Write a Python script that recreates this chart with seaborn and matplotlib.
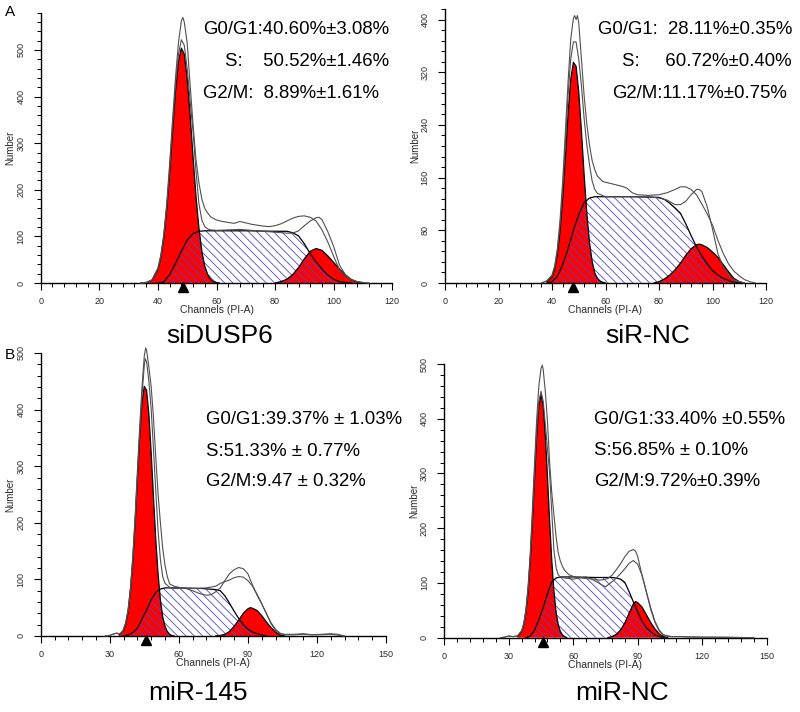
import matplotlib
matplotlib.use('Agg')
import matplotlib.pyplot as plt
import seaborn as sns
from matplotlib.ticker import MultipleLocator

W, H = 800, 712

# ---------------- data ----------------
# A, left: siDUSP6
sidusp6_g1_x = [36, 38, 40, 41, 42, 43, 44, 45, 46, 47, 48, 49, 50, 51, 52, 53, 54, 55, 56, 57, 58, 59, 60, 61]
sidusp6_g1_y = [1, 6, 28, 54, 96, 157, 235, 324, 410, 475, 504, 491, 439, 360, 270, 186, 118, 68, 36, 18, 8, 3, 1, 0]
sidusp6_s_x = [40, 42, 44, 46, 48, 50, 52, 54, 56, 60, 70, 80, 84, 86, 88, 90, 92, 94, 96, 98, 100, 102, 104, 106]
sidusp6_s_y = [0, 2, 18, 42, 68, 92, 106, 111, 112, 112, 112, 111, 111, 108, 101, 84, 63, 45, 30, 17, 8, 3, 1, 0]
sidusp6_g2_x = [80, 82, 84, 86, 88, 90, 92, 94, 96, 98, 100, 102, 104, 106, 108, 110]
sidusp6_g2_y = [0, 3, 8, 18, 33, 52, 68, 74, 70, 58, 44, 30, 17, 7, 2, 0]
sidusp6_a_x = [34, 36, 38, 40, 41, 42, 43, 44, 45, 46, 47, 48, 48.5, 49, 50, 51, 52, 53, 54, 55, 56, 57, 58, 60,
               62, 64, 66, 68, 70, 72, 74, 76, 78, 80, 82, 84, 86, 88, 90, 92, 94, 96, 98, 100, 102, 104, 106,
               108, 110, 112]
sidusp6_a_y = [0, 1, 7, 32, 60, 105, 170, 255, 350, 440, 515, 562, 570, 560, 515, 425, 340, 265, 215, 180, 160,
               150, 142, 135, 132, 130, 128, 132, 129, 126, 124, 122, 121, 123, 127, 133, 139, 143, 144, 141, 133,
               114, 88, 57, 28, 14, 7, 3, 1, 0]
sidusp6_b_x = [34, 36, 38, 40, 41, 42, 43, 44, 45, 46, 47, 48, 49, 50, 51, 52, 53, 54, 55, 56, 57, 58, 60, 64,
               68, 72, 76, 80, 84, 86, 88, 90, 92, 94, 95, 96, 98, 100, 102, 104, 106, 108, 110, 112]
sidusp6_b_y = [0, 1, 6, 30, 57, 100, 163, 245, 338, 425, 490, 522, 510, 460, 390, 325, 240, 170, 135, 121, 116,
               114, 113, 114, 115, 113, 111, 109, 107, 107, 112, 123, 133, 140, 141, 136, 110, 78, 38, 18, 8, 3,
               1, 0]

# A, right: siR-NC
sirnc_g1_x = [38, 40, 41, 42, 43, 44, 45, 46, 47, 48, 49, 50, 51, 52, 53, 54, 55, 56, 57, 58, 59, 60]
sirnc_g1_y = [2, 9, 21, 43, 78, 129, 191, 256, 309, 335, 329, 290, 231, 165, 107, 62, 33, 15, 7, 3, 1, 0]
sirnc_s_x = [38, 40, 42, 44, 46, 48, 50, 52, 54, 56, 60, 70, 80, 82, 84, 86, 88, 90, 92, 94, 96, 98, 100, 102,
             104, 106, 108, 110]
sirnc_s_y = [0, 2, 10, 28, 52, 80, 104, 122, 129, 131, 131, 131, 130, 127, 121, 114, 106, 90, 72, 55, 41, 29,
             19, 12, 7, 4, 1, 0]
sirnc_g2_x = [78, 80, 82, 84, 86, 88, 90, 92, 94, 95, 96, 98, 100, 102, 104, 106, 108, 110, 112]
sirnc_g2_y = [0, 2, 6, 12, 20, 30, 42, 52, 58, 59, 58, 54, 47, 39, 28, 17, 7, 2, 0]
sirnc_a_x = [36, 38, 40, 41, 42, 43, 44, 45, 46, 47, 48, 48.5, 49, 49.5, 50, 51, 52, 53, 54, 55, 56, 57, 59, 61,
             63, 66, 68, 70, 72, 76, 80, 83, 86, 88, 90, 92, 94, 96, 98, 100, 102, 104, 106, 108, 110, 112, 114,
             116]
sirnc_a_y = [0, 3, 12, 26, 52, 95, 155, 230, 305, 370, 402, 406, 400, 406, 395, 340, 285, 242, 210, 186, 172,
             162, 154, 152, 150, 147, 144, 137, 134, 133, 134, 137, 142, 146, 146, 142, 134, 120, 105, 88, 65, 45,
             29, 18, 11, 5, 2, 0]
sirnc_b_x = [36, 38, 40, 41, 42, 43, 44, 45, 46, 47, 48, 49, 50, 51, 52, 53, 54, 55, 56, 57, 60, 64, 70, 76, 80,
             83, 86, 88, 90, 92, 94, 95, 96, 98, 100, 102, 104, 106, 108, 110, 112]
sirnc_b_y = [0, 3, 11, 24, 48, 88, 143, 212, 285, 340, 366, 366, 340, 300, 250, 210, 180, 155, 142, 136, 131,
             131, 131, 131, 129, 126, 119, 119, 124, 134, 142, 142, 139, 116, 82, 45, 24, 12, 5, 2, 0]

# B, left: miR-145
mir145_g1_x = [34, 36, 37, 38, 39, 40, 41, 42, 43, 44, 45, 46, 47, 48, 49, 50, 51, 52, 53, 54, 55, 56, 57, 58]
mir145_g1_y = [2, 10, 22, 44, 80, 131, 199, 277, 352, 412, 441, 434, 391, 323, 245, 170, 109, 64, 34, 17, 8, 3,
               1, 0]
mir145_s_x = [36, 38, 40, 42, 44, 46, 48, 50, 52, 54, 60, 70, 76, 78, 80, 82, 84, 86, 88, 90, 92, 94, 96, 98]
mir145_s_y = [0, 2, 6, 14, 30, 46, 64, 77, 83, 85, 85, 84, 82, 80, 71, 58, 44, 31, 20, 12, 7, 4, 2, 0]
mir145_g2_x = [76, 78, 80, 82, 84, 86, 88, 90, 91, 92, 94, 96, 98, 100, 102, 104, 106]
mir145_g2_y = [0, 1, 3, 8, 17, 28, 40, 48, 50, 49, 45, 36, 25, 15, 7, 2, 0]
mir145_a_x = [28, 30, 32, 33, 34, 35, 36, 37, 38, 39, 40, 41, 42, 43, 44, 45, 45.6, 46, 47, 48, 49, 50, 51, 52,
              53, 54, 55, 56, 58, 60, 63, 66, 69, 72, 74, 76, 78, 80, 82, 84, 86, 88, 90, 92, 94, 96, 98, 100,
              102, 104, 106, 110, 114, 118, 122, 126, 129, 132]
mir145_a_y = [0, 1, 4, 5, 4, 3, 12, 25, 48, 86, 140, 210, 292, 370, 440, 495, 509, 505, 475, 440, 385, 315,
              250, 200, 155, 125, 105, 92, 88, 86, 84, 80, 75, 72, 73, 78, 85, 98, 110, 117, 121, 119, 110, 90,
              72, 57, 40, 22, 10, 4, 3, 3, 4, 2, 3, 4, 3, 0]
mir145_b_x = [28, 30, 32, 33, 34, 35, 36, 37, 38, 39, 40, 41, 42, 43, 44, 45, 45.4, 46, 47, 48, 49, 50, 51, 52,
              53, 54, 56, 58, 62, 68, 72, 76, 78, 80, 82, 84, 86, 88, 90, 92, 94, 96, 98, 100, 102, 104, 106,
              110, 114, 120, 126, 130, 132]
mir145_b_y = [0, 1, 4, 5, 4, 3, 12, 24, 46, 83, 135, 203, 282, 357, 425, 478, 490, 484, 450, 400, 330, 255,
              185, 135, 105, 93, 86, 84, 84, 84, 85, 88, 93, 96, 99, 103, 105, 104, 98, 88, 74, 57, 40, 24, 12, 5,
              2, 2, 3, 2, 3, 1, 0]

# B, right: miR-NC
mirnc_g1_x = [34, 36, 37, 38, 39, 40, 41, 42, 43, 44, 45, 46, 47, 48, 49, 50, 51, 52, 53, 54, 55, 56, 57]
mirnc_g1_y = [2, 11, 24, 47, 85, 141, 213, 294, 369, 424, 444, 424, 369, 294, 213, 141, 85, 47, 24, 11, 5, 2, 0]
mirnc_s_x = [38, 40, 42, 44, 46, 48, 50, 52, 54, 60, 70, 78, 80, 82, 84, 86, 88, 90, 92, 94, 96, 98, 100, 102]
mirnc_s_y = [0, 3, 14, 33, 55, 80, 102, 109, 111, 111, 110, 110, 109, 107, 101, 84, 65, 47, 30, 18, 11, 5, 2, 0]
mirnc_g2_x = [76, 78, 80, 82, 84, 86, 88, 89, 90, 92, 94, 96, 98, 100, 102, 104]
mirnc_g2_y = [0, 2, 6, 14, 27, 45, 62, 66, 64, 56, 42, 28, 16, 7, 2, 0]
mirnc_a_x = [26, 28, 30, 32, 34, 36, 37, 38, 39, 40, 41, 42, 43, 44, 45, 45.6, 46, 47, 48, 49, 50, 51, 52, 53,
             54, 55, 56, 58, 60, 62, 66, 70, 72, 74, 76, 78, 80, 82, 84, 86, 88, 89, 90, 92, 94, 96, 98, 100, 102,
             106, 110, 116, 130, 144]
mirnc_a_y = [0, 1, 3, 2, 3, 13, 27, 52, 95, 155, 235, 320, 400, 460, 492, 498, 490, 450, 395, 320, 265, 225,
             185, 155, 140, 130, 123, 115, 112, 110, 108, 107, 105, 106, 108, 114, 124, 135, 148, 158, 161, 158,
             148, 114, 84, 52, 28, 12, 5, 2, 2, 1, 1, 0]
mirnc_b_x = [26, 28, 30, 32, 34, 36, 37, 38, 39, 40, 41, 42, 43, 44, 45, 46, 47, 48, 49, 50, 51, 52, 53, 54, 56,
             60, 64, 66, 68, 71, 73, 75, 77, 79, 82, 84, 86, 88, 90, 92, 94, 96, 98, 100, 102, 104, 110, 120, 144]
mirnc_b_y = [0, 1, 3, 2, 3, 12, 25, 50, 90, 148, 222, 305, 380, 432, 450, 432, 390, 345, 300, 230, 160, 128,
             115, 111, 109, 107, 110, 111, 108, 102, 97, 93, 99, 105, 117, 126, 136, 141, 134, 114, 84, 55, 30,
             14, 5, 2, 2, 1, 0]

group_labels = ['siDUSP6', 'siR-NC', 'miR-145', 'miR-NC']
g1_marker_x = [48.5, 48, 45.6, 45.8]
stat_lines = [
    ['G0/G1:40.60%±3.08%', 'S:    50.52%±1.46%', 'G2/M:  8.89%±1.61%'],
    ['G0/G1:  28.11%±0.35%', 'S:     60.72%±0.40%', 'G2/M:11.17%±0.75%'],
    ['G0/G1:39.37% ± 1.03%', 'S:51.33% ± 0.77%', 'G2/M:9.47 ± 0.32%'],
    ['G0/G1:33.40% ±0.55%', 'S:56.85% ± 0.10%', 'G2/M:9.72%±0.39%'],
]

# ---------------- layout (pixels) ----------------
# left, top, right, bottom of the plotting box, axis limits and tick steps
boxes = [
    dict(box=(40.7, 12.7, 392.3, 283), xmax=120, ymax=580, xmaj=20, xmin=4, ymaj=100, ymin=20),
    dict(box=(445, 9, 766, 283), xmax=120, ymax=416, xmaj=20, xmin=4, ymaj=80, ymin=16),
    dict(box=(40.7, 353, 386, 636), xmax=150, ymax=500, xmaj=30, xmin=6, ymaj=100, ymin=20),
    dict(box=(444.3, 364, 766.7, 637.7), xmax=150, ymax=500, xmaj=30, xmin=6, ymaj=100, ymin=20),
]
stat_pos = [[(203, 30), (225, 62), (203, 93)],
            [(598, 30), (622, 62), (612, 93)],
            [(206, 420), (206, 451), (206, 482)],
            [(594, 419), (594, 450), (594, 482)]]
label_pos = [(220, 336), (648, 336), (198, 693), (622, 693)]

curves = [
    ((sidusp6_g1_x, sidusp6_g1_y), (sidusp6_s_x, sidusp6_s_y), (sidusp6_g2_x, sidusp6_g2_y),
     [(sidusp6_a_x, sidusp6_a_y), (sidusp6_b_x, sidusp6_b_y)]),
    ((sirnc_g1_x, sirnc_g1_y), (sirnc_s_x, sirnc_s_y), (sirnc_g2_x, sirnc_g2_y),
     [(sirnc_a_x, sirnc_a_y), (sirnc_b_x, sirnc_b_y)]),
    ((mir145_g1_x, mir145_g1_y), (mir145_s_x, mir145_s_y), (mir145_g2_x, mir145_g2_y),
     [(mir145_a_x, mir145_a_y), (mir145_b_x, mir145_b_y)]),
    ((mirnc_g1_x, mirnc_g1_y), (mirnc_s_x, mirnc_s_y), (mirnc_g2_x, mirnc_g2_y),
     [(mirnc_a_x, mirnc_a_y), (mirnc_b_x, mirnc_b_y)]),
]

sns.set_style('ticks')
plt.rcParams['font.family'] = ['Liberation Sans', 'DejaVu Sans']
plt.rcParams['text.color'] = 'black'
plt.rcParams['hatch.linewidth'] = 0.6

fig = plt.figure(figsize=(W / 100, H / 100), dpi=100)
fig.patch.set_facecolor('white')


def fpos(x, y):
    return x / W, 1 - y / H


for i, (lay, (g1, s, g2, envs)) in enumerate(zip(boxes, curves)):
    l, t, r, b = lay['box']
    ax = fig.add_axes([l / W, 1 - b / H, (r - l) / W, (b - t) / H])
    ax.set_facecolor('white')

    # red G0/G1 and G2/M peaks
    ax.fill_between(g1[0], 0, g1[1], facecolor='#ff0000', edgecolor='none', zorder=2)
    ax.fill_between(g2[0], 0, g2[1], facecolor='#ff0000', edgecolor='none', zorder=2)
    # hatched S phase
    ax.fill_between(s[0], 0, s[1], facecolor='none', edgecolor='#4a4ad0', hatch='\\\\\\\\',
                    linewidth=0, zorder=3)
    for cx, cy in (g1, s, g2):
        ax.plot(cx, cy, color='black', lw=0.9, zorder=4)
    # measured histograms
    for ex, ey in envs:
        sns.lineplot(x=ex, y=ey, ax=ax, color='#505050', lw=0.8, estimator=None,
                     sort=False, legend=False, zorder=5)
    for line in ax.get_lines():
        line.set_clip_on(False)

    ax.set_xlim(0, lay['xmax'])
    ax.set_ylim(0, lay['ymax'])
    ax.xaxis.set_major_locator(MultipleLocator(lay['xmaj']))
    ax.xaxis.set_minor_locator(MultipleLocator(lay['xmin']))
    ax.yaxis.set_major_locator(MultipleLocator(lay['ymaj']))
    ax.yaxis.set_minor_locator(MultipleLocator(lay['ymin']))
    for side in ('top', 'right'):
        ax.spines[side].set_visible(False)
    for side in ('left', 'bottom'):
        ax.spines[side].set_linewidth(1.0)
        ax.spines[side].set_color('black')
    ax.tick_params(which='major', direction='out', length=5, width=0.8, color='black',
                   labelsize=6.5, labelcolor='#2a2a2a')
    ax.tick_params(which='minor', direction='out', length=3, width=0.7, color='black')
    ax.tick_params(axis='x', pad=5)
    ax.tick_params(axis='y', pad=6, labelrotation=90)
    for lab in ax.get_yticklabels():
        lab.set_va('center')

    wpx, hpx = r - l, b - t
    ax.text(-30 / wpx, 0.5, 'Number', transform=ax.transAxes, rotation=90,
            ha='center', va='center', fontsize=7, color='#2a2a2a')
    ax.text(0.5, -27 / hpx, 'Channels (PI-A)', transform=ax.transAxes,
            ha='center', va='center', fontsize=7.5, color='#2a2a2a')

    # G0/G1 peak marker under the axis
    ax.plot([g1_marker_x[i]], [-4 / hpx], marker='^', ms=6.5, color='black',
            transform=ax.get_xaxis_transform(), clip_on=False, zorder=6)

    for txt, (sx, sy) in zip(stat_lines[i], stat_pos[i]):
        fig.text(*fpos(sx, sy), txt, ha='left', va='center', fontsize=13.4, color='black')
    fig.text(*fpos(*label_pos[i]), group_labels[i], ha='center', va='center', fontsize=19,
             color='black')

fig.text(*fpos(10, 12), 'A', ha='center', va='center', fontsize=11, color='black')
fig.text(*fpos(10, 355), 'B', ha='center', va='center', fontsize=11, color='black')

fig.savefig('out.png', dpi=100, facecolor='white')
